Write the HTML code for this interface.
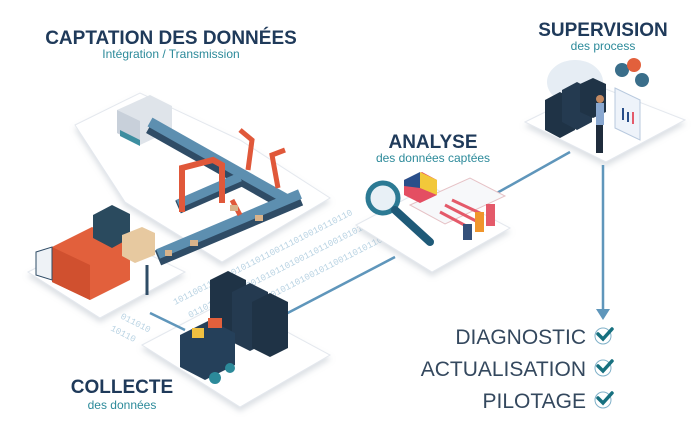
<!DOCTYPE html>
<html><head><meta charset="utf-8"><style>
html,body{margin:0;padding:0;background:#fff;width:700px;height:433px;overflow:hidden}
svg{display:block}
.t{font-family:"Liberation Sans",sans-serif}
</style></head><body>
<svg width="700" height="433" viewBox="0 0 700 433" xmlns="http://www.w3.org/2000/svg">
<defs>
<filter id="sh" x="-20%" y="-20%" width="140%" height="140%"><feDropShadow dx="0" dy="4" stdDeviation="3" flood-color="#9aa6b4" flood-opacity="0.35"/></filter>
</defs>
<!-- binary band -->
<g fill="#b9d3e3" font-family="Liberation Mono,monospace" font-size="9">
<text transform="translate(175,305) rotate(-27)">1011001110100101101100111010010110110</text>
<text transform="translate(190,318) rotate(-27)">0110100110110010101101001101100101011</text>
<text transform="translate(205,332) rotate(-27)">1101001011001101011010010110011010110</text>
<text transform="translate(110,330) rotate(27)">10110</text>
<text transform="translate(120,318) rotate(27)">011010</text>
</g>
<!-- platforms -->
<g fill="#fff" stroke="#e4e8ee" stroke-width="1" filter="url(#sh)">
<polygon points="75,125 140,93 240,140 330,198 222,262 125,202"/>
<polygon points="28,272 105,233 185,272 100,318"/>
<polygon points="142,345 228,300 330,355 240,407"/>
<polygon points="356,225 430,186 510,228 432,272"/>
<polygon points="525,122 598,86 685,120 606,162"/>
</g>
<!-- connectors -->
<g stroke="#5f96bb" stroke-width="2.5" fill="none">
<line x1="280" y1="317" x2="395" y2="257"/>
<line x1="150" y1="313" x2="185" y2="330"/>
<line x1="488" y1="198" x2="570" y2="152"/>
<line x1="603" y1="165" x2="603" y2="310"/>
</g>
<polygon points="596,309 610,309 603,320" fill="#5f96bb"/>
<!-- captation: machine -->
<polygon points="117,110 150,95 172,106 172,130 140,145 117,133" fill="#dfe4ea"/>
<polygon points="117,110 140,121 140,145 117,133" fill="#c8d0da"/>
<polygon points="120,130 140,140 140,146 120,136" fill="#3d8ea0"/>
<!-- belts -->
<g stroke-linecap="butt">
<line x1="150" y1="126" x2="290" y2="205" stroke="#2f4c66" stroke-width="16"/>
<line x1="150" y1="122" x2="290" y2="201" stroke="#5d8fb0" stroke-width="10"/>
<line x1="158" y1="258" x2="300" y2="198" stroke="#2f4c66" stroke-width="16"/>
<line x1="158" y1="254" x2="300" y2="194" stroke="#5d8fb0" stroke-width="10"/>
<line x1="178" y1="207" x2="240" y2="180" stroke="#2f4c66" stroke-width="14"/>
<line x1="178" y1="204" x2="240" y2="177" stroke="#5d8fb0" stroke-width="9"/>
</g>
<!-- gate & robots -->
<path d="M182,212 L182,168 L213,160 L222,165 L222,203" stroke="#e0583a" stroke-width="6" fill="none"/>
<path d="M248,170 L252,140 L240,130 M278,188 L272,155 L285,150 M232,200 L240,215" stroke="#e0583a" stroke-width="5" fill="none"/>
<g fill="#d9b38a"><rect x="230" y="205" width="8" height="6"/><rect x="190" y="240" width="8" height="6"/><rect x="165" y="250" width="7" height="6"/><rect x="255" y="215" width="8" height="6"/></g>
<!-- truck -->
<polygon points="52,247 92,227 130,245 130,280 90,300 52,282" fill="#e2603c"/>
<polygon points="52,247 90,265 90,300 52,282" fill="#d0502f"/>
<polygon points="36,252 52,247 52,280 36,275" fill="#eef2f6" stroke="#2f4c66"/>
<polygon points="93,215 112,205 130,214 130,238 112,248 93,238" fill="#2a4a5e"/>
<polygon points="122,235 142,227 155,233 155,255 135,263 122,256" fill="#e7c9a0"/>
<line x1="147" y1="265" x2="147" y2="295" stroke="#2f4c66" stroke-width="3"/>
<!-- collecte servers -->
<g>
<polygon points="210,280 228,271 246,280 246,330 228,339 210,330" fill="#1f3346"/>
<polygon points="232,292 250,283 268,292 268,342 250,351 232,342" fill="#243a50"/>
<polygon points="252,302 270,293 288,302 288,348 270,357 252,348" fill="#1f3346"/>
<polygon points="180,335 210,320 235,333 235,365 205,380 180,367" fill="#25405a"/>
<rect x="208" y="318" width="14" height="10" fill="#e2603c"/>
<rect x="192" y="328" width="12" height="10" fill="#f0c040"/>
<circle cx="215" cy="378" r="6" fill="#2c8a9a"/><circle cx="230" cy="368" r="5" fill="#2c8a9a"/>
</g>
<!-- analyse -->
<polygon points="410,205 470,178 505,196 445,224" fill="#f7f8fa" stroke="#e6c2c6"/>
<g stroke="#e45a6a" stroke-width="3"><line x1="445" y1="205" x2="478" y2="222"/><line x1="440" y1="212" x2="470" y2="228"/><line x1="452" y1="200" x2="482" y2="214"/></g>
<rect x="463" y="224" width="9" height="16" fill="#34507a"/><rect x="475" y="212" width="9" height="20" fill="#f0952c"/><rect x="486" y="204" width="9" height="22" fill="#e45a6a"/>
<circle cx="383" cy="198" r="15" fill="#e8f0f6" stroke="#2c7a94" stroke-width="5"/>
<line x1="395" y1="210" x2="430" y2="242" stroke="#1f5a78" stroke-width="8" stroke-linecap="round"/>
<path d="M404,180 L422,172 L437,180 L437,195 L420,203 L404,195 Z" fill="#e44e62"/>
<path d="M420,172 L437,180 L437,195 L420,188 Z" fill="#f2c83a"/>
<path d="M404,180 L420,172 L420,188 L404,186Z" fill="#2a4f8a"/>
<!-- supervision -->
<ellipse cx="575" cy="82" rx="28" ry="22" fill="#e6edf4"/>
<polygon points="545,100 560,92 575,100 575,130 560,138 545,130" fill="#1f3346"/>
<polygon points="562,90 577,82 592,90 592,122 577,130 562,122" fill="#243a50"/>
<polygon points="580,84 593,78 606,84 606,112 593,118 580,112" fill="#1f3346"/>
<polygon points="615,88 640,100 640,140 615,128" fill="#eef3fa" stroke="#b8c9de"/>
<g fill="#2a4f8a"><rect x="622" y="108" width="2" height="12"/><rect x="627" y="112" width="2" height="10"/></g>
<g fill="#e45a6a"><rect x="632" y="112" width="2" height="12"/></g>
<circle cx="622" cy="70" r="7" fill="#3a6e8a"/><circle cx="634" cy="65" r="7" fill="#e2603c"/><circle cx="642" cy="80" r="7" fill="#3a6e8a"/>
<rect x="596" y="103" width="8" height="22" fill="#8aa8d0"/><rect x="596" y="125" width="7" height="28" fill="#1f2c3c"/>
<circle cx="600" cy="99" r="4" fill="#c48a62"/>
<!-- titles -->
<g class="t" fill="#1f3a5a" font-weight="bold" text-anchor="middle">
<text x="171" y="44" font-size="19">CAPTATION DES DONNÉES</text>
<text x="603" y="36" font-size="19">SUPERVISION</text>
<text x="433" y="148" font-size="19">ANALYSE</text>
<text x="122" y="393" font-size="19">COLLECTE</text>
</g>
<g class="t" fill="#2c8a9a" font-size="12" text-anchor="middle">
<text x="171" y="58">Intégration / Transmission</text>
<text x="603" y="50">des process</text>
<text x="433" y="162">des données captées</text>
<text x="122" y="409">des données</text>
</g>
<g class="t" fill="#34485e" font-size="21" text-anchor="end">
<text x="586" y="344">DIAGNOSTIC</text>
<text x="586" y="376">ACTUALISATION</text>
<text x="586" y="408">PILOTAGE</text>
</g>
<g>
<circle cx="603" cy="336" r="8" fill="none" stroke="#7fb0c8" stroke-width="1"/>
<circle cx="603" cy="368" r="8" fill="none" stroke="#7fb0c8" stroke-width="1"/>
<circle cx="603" cy="400" r="8" fill="none" stroke="#7fb0c8" stroke-width="1"/>
<g stroke="#17707f" stroke-width="3.5" fill="none" stroke-linecap="round">
<path d="M598,334 L603,339 L612,329"/><path d="M598,366 L603,371 L612,361"/><path d="M598,398 L603,403 L612,393"/>
</g></g>
</svg>
</body></html>
